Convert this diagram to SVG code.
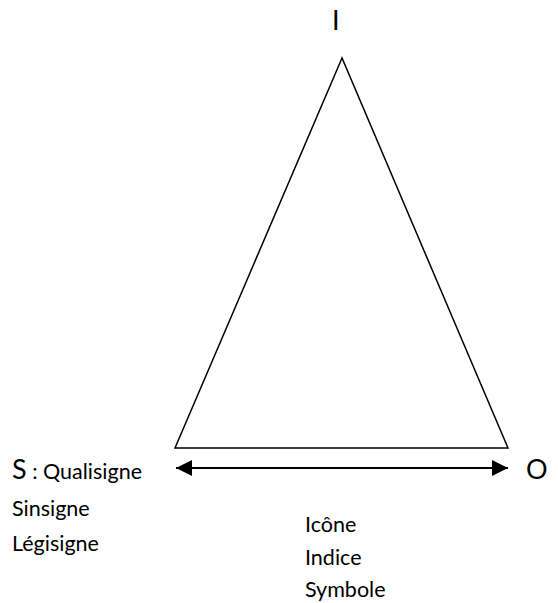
<svg xmlns="http://www.w3.org/2000/svg" width="558" height="603" viewBox="0 0 558 603">
<defs>
<style>
text{font-family:Lato,"Open Sans","Liberation Sans",sans-serif;fill:#000}
.b{font-size:21.5px}
.l{font-size:27px}
</style>
<marker id="ah" markerWidth="17" markerHeight="16" refX="16" refY="8" orient="auto-start-reverse" markerUnits="userSpaceOnUse">
<path d="M0,0 L16,8 L0,16 Z" fill="#000"/>
</marker>
</defs>
<rect width="558" height="603" fill="#fff"/>
<g id="triangle">
<polygon points="342,58 175,448 508,448" fill="none" stroke="#000" stroke-width="1.5"/>
</g>
<g id="connectors">
<line x1="176" y1="468" x2="508" y2="468" stroke="#000" stroke-width="2" marker-start="url(#ah)" marker-end="url(#ah)"/>
</g>
<g id="node-I"><text class="l" x="332" y="30">I</text></g>
<g id="node-S">
<text x="12" y="479"><tspan class="l">S</tspan><tspan class="b"> : Qualisigne</tspan></text>
<text class="b" x="12" y="516">Sinsigne</text>
<text class="b" x="12" y="551">Légisigne</text>
</g>
<g id="node-O"><text class="l" x="526" y="479">O</text></g>
<g id="node-labels">
<text class="b" x="305" y="532">Icône</text>
<text class="b" x="305" y="565">Indice</text>
<text class="b" x="305" y="597">Symbole</text>
</g>
</svg>
